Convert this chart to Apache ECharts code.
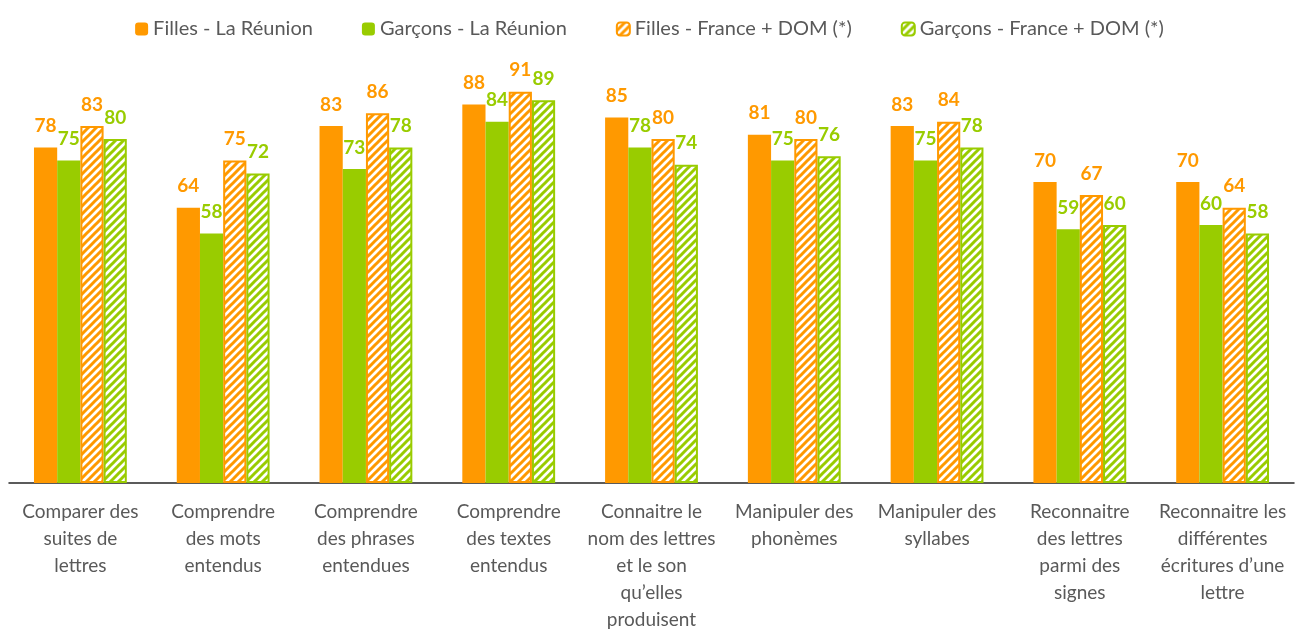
<!DOCTYPE html>
<html>
<head>
<meta charset="utf-8">
<script src="https://cdn.jsdelivr.net/npm/echarts@6/dist/echarts.min.js"></script>
<style>
  html, body { margin: 0; padding: 0; background: #fff; }
  #chart { width: 1299px; height: 633px; }
</style>
</head>
<body>
<div id="chart"></div>
<script>
/** données */
var categories = [
  'Comparer des\nsuites de\nlettres',
  'Comprendre\ndes mots\nentendus',
  'Comprendre\ndes phrases\nentendues',
  'Comprendre\ndes textes\nentendus',
  'Connaitre le\nnom des lettres\net le son\nqu’elles\nproduisent',
  'Manipuler des\nphonèmes',
  'Manipuler des\nsyllabes',
  'Reconnaitre\ndes lettres\nparmi des\nsignes',
  'Reconnaitre les\ndifférentes\nécritures d’une\nlettre'
];
var seriesNames = [
  'Filles - La Réunion',
  'Garçons - La Réunion',
  'Filles - France + DOM (*)',
  'Garçons - France + DOM (*)'
];
var fillesReunion = [78, 64, 83, 88, 85, 81, 83, 70, 70];
var garconsReunion = [75, 58, 73, 84, 78, 75, 75, 59, 60];
var fillesFrance = [83, 75, 86, 91, 80, 80, 84, 67, 64];
var garconsFrance = [80, 72, 78, 89, 74, 76, 78, 60, 58];

/** couleurs */
var orange = '#FF9900';
var green = '#99CC00';
var grey = '#595959';
var font = 'Lato, "Open Sans", sans-serif';

/** motif hachuré (/) */
var makeHatch = function(color) {
  var c = document.createElement('canvas');
  c.width = 8;
  c.height = 8;
  var ctx = c.getContext('2d');
  ctx.fillStyle = '#fff';
  ctx.fillRect(0, 0, 8, 8);
  ctx.strokeStyle = color;
  ctx.lineWidth = 3;
  ctx.beginPath();
  ctx.moveTo(-2, 10); ctx.lineTo(10, -2);
  ctx.moveTo(-2, 2); ctx.lineTo(2, -2);
  ctx.moveTo(6, 10); ctx.lineTo(10, 6);
  ctx.stroke();
  return {image: c, repeat: 'repeat'};
};

var makeSeries = function(name, values, color, hatched) {
  return {
    name: name,
    type: 'bar',
    barGap: '0%',
    barCategoryGap: '35%',
    data: values,
    itemStyle: hatched ? {
      color: makeHatch(color),
      borderColor: color,
      borderWidth: 2
    } : {color: color},
    label: {
      show: true,
      position: 'top',
      distance: 12,
      color: color,
      fontFamily: font,
      fontWeight: 'bold',
      fontSize: 19
    }
  };
};

var myChart = echarts.init(document.getElementById('chart'));
var option = {
  animation: false,
  legend: {
    top: 14,
    left: 'center',
    itemWidth: 13,
    itemHeight: 13,
    itemGap: 49,
    textStyle: {color: grey, fontFamily: font, fontSize: 20},
    data: seriesNames
  },
  grid: {left: 9, right: 5, top: 53, bottom: 150},
  xAxis: {
    type: 'category',
    data: categories,
    axisLine: {lineStyle: {color: '#262626', width: 1.5}},
    axisTick: {show: false},
    axisLabel: {
      interval: 0,
      margin: 15,
      color: grey,
      fontFamily: font,
      fontSize: 19,
      lineHeight: 27
    }
  },
  yAxis: {
    type: 'value',
    min: 0,
    max: 100,
    show: false,
    splitLine: {show: false}
  },
  series: [
    makeSeries(seriesNames[0], fillesReunion, orange, false),
    makeSeries(seriesNames[1], garconsReunion, green, false),
    makeSeries(seriesNames[2], fillesFrance, orange, true),
    makeSeries(seriesNames[3], garconsFrance, green, true)
  ]
};
myChart.setOption(option);
</script>
</body>
</html>
